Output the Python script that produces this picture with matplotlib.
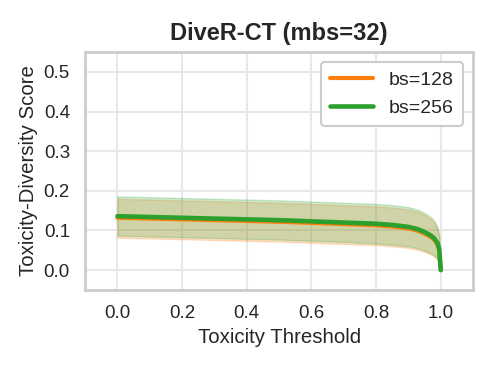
import matplotlib
matplotlib.use("Agg")
import matplotlib.pyplot as plt
import seaborn as sns

sns.set_theme(style="whitegrid")
plt.rcParams['font.family'] = ['Liberation Sans', 'DejaVu Sans']

thresholds = [0.0, 0.1, 0.2, 0.3, 0.4, 0.5, 0.6, 0.7, 0.8, 0.85, 0.9, 0.93, 0.95, 0.97, 0.98, 0.99, 0.995, 1.0]

mean_128 = [0.132, 0.130, 0.128, 0.126, 0.124, 0.122, 0.119, 0.116, 0.113, 0.110, 0.105, 0.099, 0.092, 0.083, 0.076, 0.064, 0.050, 0.0]
lo_128 = [0.082, 0.080, 0.078, 0.076, 0.074, 0.072, 0.069, 0.066, 0.063, 0.060, 0.056, 0.051, 0.046, 0.039, 0.034, 0.027, 0.018, 0.0]
hi_128 = [0.180, 0.178, 0.176, 0.174, 0.172, 0.170, 0.167, 0.164, 0.161, 0.158, 0.153, 0.147, 0.139, 0.128, 0.119, 0.103, 0.085, 0.0]

mean_256 = [0.136, 0.134, 0.132, 0.130, 0.128, 0.126, 0.123, 0.120, 0.117, 0.114, 0.109, 0.103, 0.096, 0.087, 0.080, 0.068, 0.054, 0.0]
lo_256 = [0.087, 0.085, 0.083, 0.081, 0.079, 0.077, 0.074, 0.071, 0.067, 0.064, 0.060, 0.055, 0.049, 0.042, 0.037, 0.029, 0.020, 0.0]
hi_256 = [0.186, 0.184, 0.182, 0.180, 0.178, 0.176, 0.173, 0.170, 0.167, 0.164, 0.159, 0.152, 0.144, 0.133, 0.124, 0.108, 0.089, 0.0]

labels = ["bs=128", "bs=256"]
colors = ["#ff7f0e", "#2ca02c"]

fig, ax = plt.subplots(figsize=(4.98, 3.67), dpi=100)
for m, lo, hi, lab, c, lw in [(mean_128, lo_128, hi_128, labels[0], colors[0], 3.0),
                              (mean_256, lo_256, hi_256, labels[1], colors[1], 3.3)]:
    ax.fill_between(thresholds, lo, hi, color=c, alpha=0.22, lw=1)
    ax.plot(thresholds, m, color=c, lw=lw, label=lab, solid_capstyle="round")

ax.set_xlim(-0.1, 1.1)
ax.set_ylim(-0.05, 0.55)
ax.set_xticks([0.0, 0.2, 0.4, 0.6, 0.8, 1.0])
ax.set_yticks([0.0, 0.1, 0.2, 0.3, 0.4, 0.5])
ax.tick_params(labelsize=13.5, colors="#262626", pad=5)
ax.grid(color="#e8e8e8", lw=1.5)
ax.set_xlabel("Toxicity Threshold", fontsize=14.7)
ax.set_ylabel("Toxicity-Diversity Score", fontsize=14.7)
ax.set_title("DiveR-CT (mbs=32)", fontsize=17, fontweight="bold", pad=9)
for s in ax.spines.values():
    s.set_color("#cccccc")
    s.set_linewidth(2)
leg = ax.legend(loc="upper right", fontsize=14, framealpha=1, handlelength=2.2,
                borderpad=0.5, labelspacing=0.5)
leg.get_frame().set_edgecolor("#cccccc")
leg.get_frame().set_linewidth(1.5)
fig.subplots_adjust(left=0.171, right=0.95, bottom=0.21, top=0.858)
fig.savefig("out.png", dpi=100)
